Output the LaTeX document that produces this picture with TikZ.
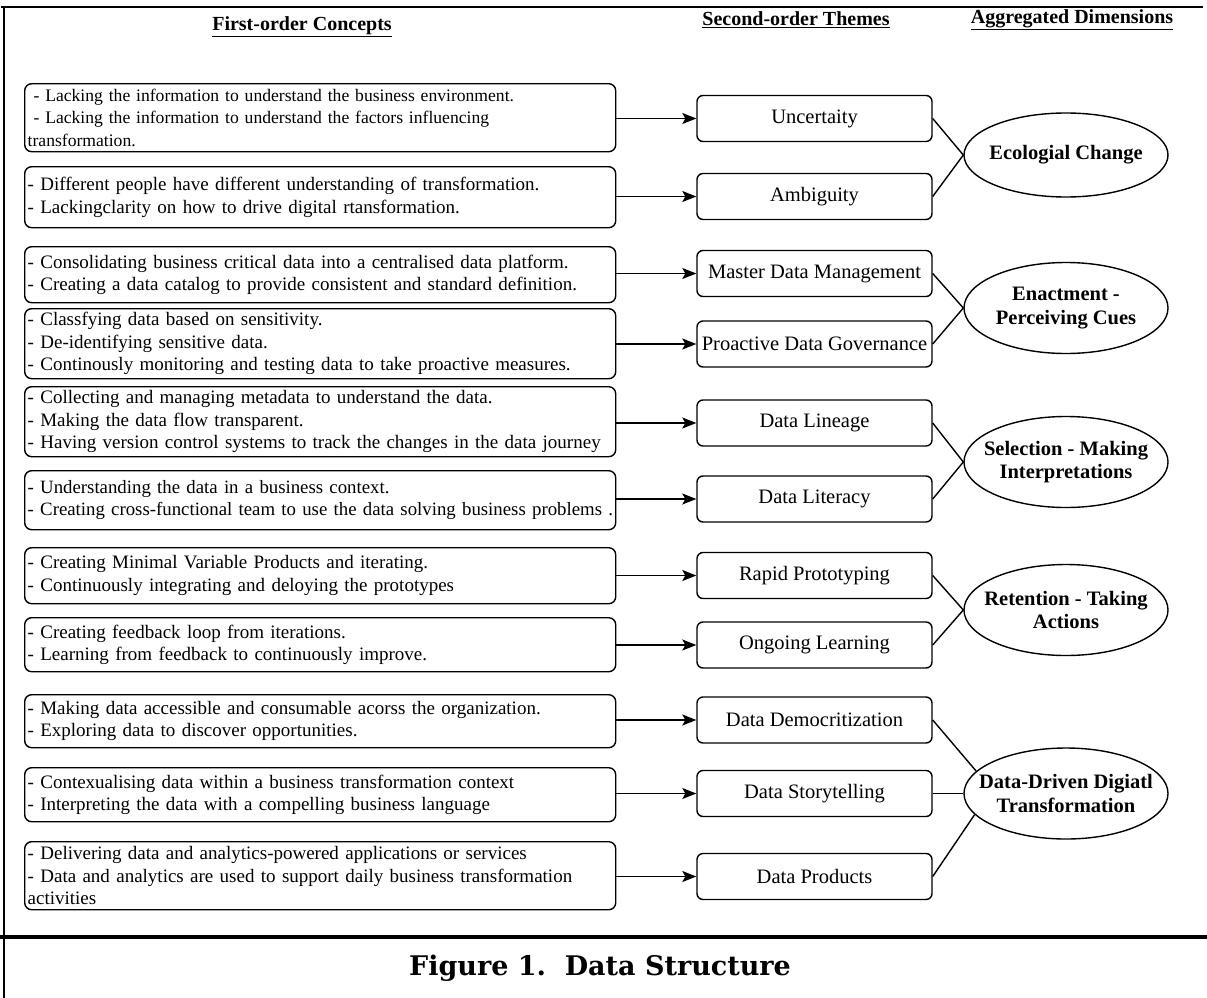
\documentclass[tikz,border=0pt]{standalone}
\usepackage{fontspec}
\setmainfont{Liberation Serif}
\newfontfamily\capfont{DejaVu Serif}
\usetikzlibrary{arrows.meta,shapes.geometric}
\begin{document}
\begin{tikzpicture}[x=1pt,y=-1pt,
  lbox/.style={draw, line width=1.4pt, rounded corners=7pt, text width=585pt, align=left,
    inner xsep=3pt, inner ysep=0pt, anchor=north west, font=\fontsize{19}{22.5}\selectfont},
  mbox/.style={draw, line width=1.4pt, rounded corners=6pt, minimum width=235pt,
    minimum height=46pt, inner sep=0pt, font=\fontsize{20.5}{22}\selectfont},
  dim/.style={draw, ellipse, line width=1.4pt, minimum width=204pt, minimum height=91pt, inner sep=0pt},
  dimtext/.style={align=center, font=\bfseries\fontsize{20.5}{23.5}\selectfont},
  arr/.style={-{Stealth[length=14pt,width=11pt,inset=3pt]}, line width=1.4pt},
  lnk/.style={line width=1.4pt},
  hdr/.style={font=\bfseries\fontsize{20}{22}\selectfont},
  frame/.style={line width=2pt}
]
\useasboundingbox (0,0) rectangle (1207,998);

% frame
\coordinate (tl) at (1,7);
\coordinate (tr) at (1203,7);
\coordinate (lt) at (4,6);
\coordinate (lb) at (4,998);
\coordinate (sl) at (0,937);
\coordinate (sr) at (1207,937);
\draw[frame] (tl) -- (tr);
\draw[frame] (lt) -- (lb);
\draw[line width=4pt] (sl) -- (sr);

% headers
\node[hdr] (h1) at (302,27) {\underline{First-order Concepts}};
\node[hdr] (h2) at (796,20) {\underline{Second-order Themes}};
\node[hdr] (h3) at (1072,20) {\underline{Aggregated Dimensions}};

% first-order concepts
\node[lbox, minimum height=68pt, font=\fontsize{17.6}{22.5}\selectfont] (L1) at (24,83) {\ - Lacking the information to understand the business environment.\\ \ - Lacking the information to understand the factors influencing\\transformation.};
\node[lbox, minimum height=61pt] (L2) at (24,166) {- Different people have different understanding of transformation.\\- Lackingclarity on how to drive digital rtansformation.};
\node[lbox, minimum height=56pt] (L3) at (24,246) {- Consolidating business critical data into a centralised data platform.\\- Creating a data catalog to provide consistent and standard definition.};
\node[lbox, minimum height=70pt] (L4) at (24,308) {- Classfying data based on sensitivity.\\- De-identifying sensitive data.\\- Continously monitoring and testing data to take proactive measures.};
\node[lbox, minimum height=70pt] (L5) at (24,386) {- Collecting and managing metadata to understand the data.\\- Making the data flow transparent.\\- Having version control systems to track the changes in the data journey};
\node[lbox, minimum height=59pt, font=\fontsize{18.8}{22.5}\selectfont] (L6) at (24,470) {- Understanding the data in a business context.\\\mbox{- Creating cross-functional team to use the data solving business problems .}};
\node[lbox, minimum height=56pt] (L7) at (24,547) {- Creating Minimal Variable Products and iterating.\\- Continuously integrating and deloying the prototypes};
\node[lbox, minimum height=54pt] (L8) at (24,617) {- Creating feedback loop from iterations.\\- Learning from feedback to continuously improve.};
\node[lbox, minimum height=53pt] (L9) at (24,694) {- Making data accessible and consumable acorss the organization.\\- Exploring data to discover opportunities.};
\node[lbox, minimum height=54pt] (L10) at (24,767) {- Contexualising data within a business transformation context\\- Interpreting the data with a compelling business language};
\node[lbox, minimum height=68pt] (L11) at (24,841) {- Delivering data and analytics-powered applications or services\\- Data and analytics are used to support daily business transformation\\activities};

% second-order themes
\node[mbox] (M1) at (814.5,118.5) {Uncertaity};
\node[mbox] (M2) at (814.5,196.5) {Ambiguity};
\node[mbox] (M3) at (814.5,273.5) {Master Data Management};
\node[mbox] (M4) at (814.5,344) {Proactive Data Governance};
\node[mbox] (M5) at (814.5,423) {Data Lineage};
\node[mbox] (M6) at (814.5,499) {Data Literacy};
\node[mbox] (M7) at (814.5,575.5) {Rapid Prototyping};
\node[mbox] (M8) at (814.5,645) {Ongoing Learning};
\node[mbox] (M9) at (814.5,720) {Data Democritization};
\node[mbox] (M10) at (814.5,793.5) {Data Storytelling};
\node[mbox] (M11) at (814.5,876.5) {Data Products};

% aggregated dimensions
\node[dim, minimum height=84pt, label={[dimtext]center:Ecologial Change}] (E1) at (1066,155) {};
\node[dim, label={[dimtext]center:Enactment -\\Perceiving Cues}] (E2) at (1066,308) {};
\node[dim, label={[dimtext]center:Selection - Making\\Interpretations}] (E3) at (1066,462) {};
\node[dim, label={[dimtext]center:Retention - Taking\\Actions}] (E4) at (1066,610) {};
\node[dim, label={[dimtext]center:Data-Driven Digiatl\\Transformation}] (E5) at (1066,793.5) {};

% arrows
\foreach \i in {1,...,11}{
  \draw[arr] (L\i.east |- M\i.west) -- (M\i.west);
}

% links
\draw[lnk] (M1.east) -- (E1.west);
\draw[lnk] (M2.east) -- (E1.west);
\draw[lnk] (M3.east) -- (E2.west);
\draw[lnk] (M4.east) -- (E2.west);
\draw[lnk] (M5.east) -- (E3.west);
\draw[lnk] (M6.east) -- (E3.west);
\draw[lnk] (M7.east) -- (E4.west);
\draw[lnk] (M8.east) -- (E4.west);
\draw[lnk] (M9.east) -- (E5.166);
\draw[lnk] (M10.east) -- (E5.west);
\draw[lnk] (M11.east) -- (E5.193);

% caption
\node[font=\capfont\bfseries\fontsize{27}{30}\selectfont] (cap) at (600,968) {Figure 1.\ \ Data Structure};
\end{tikzpicture}
\end{document}
